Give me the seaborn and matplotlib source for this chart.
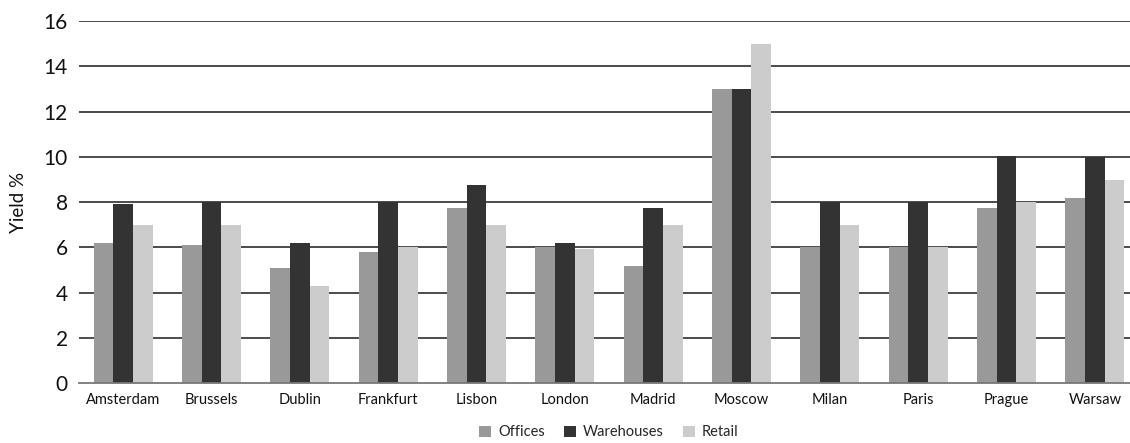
import matplotlib
matplotlib.use("Agg")
import matplotlib.pyplot as plt
from matplotlib.ticker import FixedLocator
import seaborn as sns
import pandas as pd

cities = ["Amsterdam", "Brussels", "Dublin", "Frankfurt", "Lisbon", "London",
          "Madrid", "Moscow", "Milan", "Paris", "Prague", "Warsaw"]
offices = [6.2, 6.1, 5.1, 5.8, 7.75, 6.0, 5.2, 13.0, 6.0, 6.0, 7.75, 8.2]
warehouses = [7.9, 8.0, 6.2, 8.0, 8.75, 6.2, 7.75, 13.0, 8.0, 8.0, 10.05, 10.0]
retail = [7.0, 7.0, 4.3, 6.0, 7.0, 5.95, 7.0, 15.0, 7.0, 6.0, 8.0, 9.0]
series_names = ["Offices", "Warehouses", "Retail"]
y_ticks = [0, 2, 4, 6, 8, 10, 12, 14, 16]

df = pd.DataFrame({
    "City": cities * 3,
    "Type": sum([[s] * len(cities) for s in series_names], []),
    "Yield": offices + warehouses + retail,
})

sns.set_theme(style="white")
plt.rcParams["font.family"] = ["Lato", "DejaVu Sans"]

fig = plt.figure(figsize=(11.3, 4.43), dpi=100)
ax = fig.add_axes([79 / 1130, 59.7 / 443, 1060 / 1130, 362.3 / 443])

for y in y_ticks[1:]:
    ax.axhline(y, color="#1a1a1a", lw=1.1, zorder=0)

sns.barplot(data=df, x="City", y="Yield", hue="Type", order=cities,
            hue_order=series_names,
            palette=["#999999", "#333333", "#cccccc"], saturation=1,
            width=0.67, gap=0, linewidth=0, edgecolor="none",
            ax=ax, legend=True, zorder=2)

ax.set_xlim(-0.5, 11.5)
ax.set_ylim(0, 16)
ax.set_yticks(y_ticks)
ax.set_yticklabels([str(v) for v in y_ticks], fontsize=15)
ax.tick_params(axis="y", length=0, pad=8, colors="#111111")
ax.tick_params(axis="x", which="major", length=0, pad=7, labelsize=10.5,
               colors="#111111")
ax.xaxis.set_minor_locator(FixedLocator([i - 0.5 for i in range(len(cities) + 1)]))
ax.tick_params(axis="x", which="minor", length=6, width=1.2, color="#555555",
               direction="out")
ax.set_xlabel("")
ax.set_ylabel("Yield %", fontsize=13.5, labelpad=12, color="#111111")

for side in ["left", "right", "top"]:
    ax.spines[side].set_visible(False)
ax.spines["bottom"].set_color("#777777")
ax.spines["bottom"].set_linewidth(1.3)
ax.grid(False)

handles, labels = ax.get_legend_handles_labels()
ax.get_legend().remove()
fig.legend(handles, labels, loc="center", bbox_to_anchor=(609 / 1130, 0.024),
           ncol=3, frameon=False, fontsize=10.5, handlelength=0.8,
           handleheight=0.8, handletextpad=0.5, columnspacing=1.3)

fig.savefig("out.png", dpi=100)
